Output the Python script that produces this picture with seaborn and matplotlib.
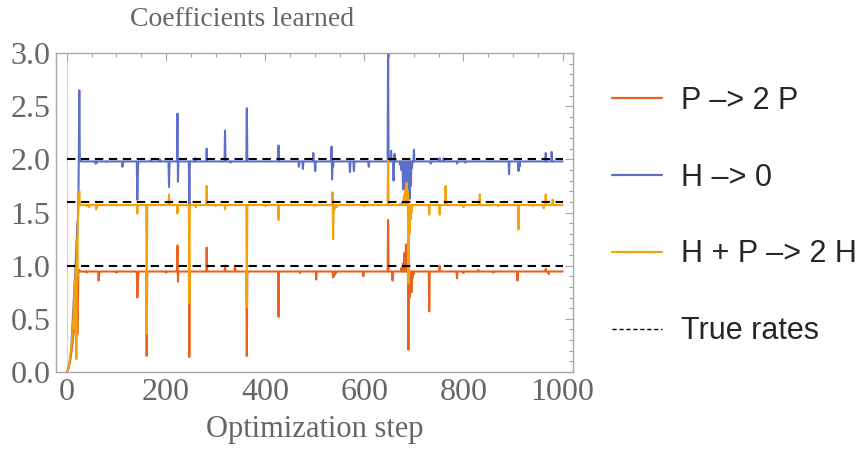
import numpy as np
import pandas as pd
import seaborn as sns
import matplotlib.pyplot as plt
from matplotlib.lines import Line2D
from matplotlib.ticker import MultipleLocator

# ---------------------------------------------------------------- data
n_steps = 1000
series_names = ["P \u2013> 2 P", "H \u2013> 0", "H + P \u2013> 2 H"]
true_rates = [1.0, 2.0, 1.6]

# settled level each learned coefficient hovers around
p2p_level = 0.945
h0_level = 1.98
hp2h_level = 1.57

# start-up transient (steps 0..24)
p2p_start = [0.0, 0.01, 0.02, 0.03, 0.05, 0.07, 0.09, 0.12, 0.15, 0.18, 0.22,
             0.26, 0.3, 0.34, 0.38, 0.42, 0.48, 0.55, 0.6, 0.62, 0.75, 0.35,
             0.55, 0.93, 0.96]
h0_start = [0.0, 0.01, 0.02, 0.04, 0.06, 0.08, 0.11, 0.14, 0.18, 0.24, 0.33,
            0.4, 0.5, 0.6, 0.7, 0.78, 0.85, 0.95, 1.05, 1.2, 1.25, 1.4,
            1.43, 1.55, 2.0]
hp2h_start = [0.0, 0.01, 0.02, 0.04, 0.06, 0.09, 0.12, 0.16, 0.2, 0.25, 0.3,
              0.36, 0.42, 0.5, 0.6, 0.72, 0.85, 0.4, 1.0, 0.12, 1.25, 0.9,
              1.35, 1.58, 1.62]

# excursions away from the settled level: (step, value)
p2p_events = [(25, 0.96), (40, 0.935), (64, 0.86), (65, 0.9), (100, 0.935),
              (142, 0.70), (143, 0.80), (144, 0.90), (161, 0.15), (200, 0.935),
              (223, 1.19), (224, 0.85), (247, 0.14), (282, 1.17), (319, 1.0),
              (339, 1.0), (363, 0.15), (427, 0.52), (470, 0.93), (503, 0.87),
              (537, 0.89), (538, 0.90), (540, 0.91), (543, 0.93), (598, 0.90),
              (648, 1.43), (657, 0.86), (675, 0.98), (678, 1.02), (681, 1.12),
              (684, 1.20), (686, 1.10), (689, 0.21), (691, 0.70), (693, 0.79),
              (695, 0.75), (697, 0.88), (700, 0.92), (731, 0.57), (752, 1.0),
              (787, 0.88), (800, 0.93), (830, 0.96), (860, 0.935), (909, 0.86),
              (966, 0.97), (972, 0.92)]
h0_events = [(25, 2.65), (26, 2.02), (27, 1.99), (58, 1.96), (60, 1.965),
             (80, 1.975), (112, 1.93), (142, 1.62), (143, 1.84), (168, 1.99),
             (188, 2.0), (206, 1.74), (223, 2.43), (224, 1.79), (247, 1.57),
             (259, 2.01), (282, 2.10), (319, 2.27), (330, 1.97), (363, 2.48),
             (427, 2.13), (468, 1.93), (476, 1.91), (497, 2.06), (501, 1.89),
             (534, 2.12), (535, 1.81), (537, 1.93), (571, 1.88), (579, 1.89),
             (609, 1.93), (648, 3.05), (654, 2.08), (659, 1.80), (661, 2.05),
             (672, 1.95), (675, 1.90), (678, 1.72), (680, 1.80), (682, 1.68),
             (684, 1.70), (686, 1.78), (688, 1.66), (690, 1.72), (692, 1.63),
             (694, 1.75), (696, 1.92), (700, 2.09), (734, 1.96), (752, 2.01),
             (760, 2.01), (787, 1.96), (804, 1.97), (892, 1.86), (911, 1.89),
             (913, 1.93), (966, 2.06), (978, 2.07)]
hp2h_events = [(25, 1.70), (26, 1.58), (40, 1.56), (45, 1.55), (59, 1.53),
               (61, 1.55), (100, 1.565), (142, 1.49), (161, 0.36), (206, 1.67),
               (223, 1.49), (247, 0.65), (260, 1.55), (282, 1.75), (300, 1.56),
               (319, 1.53), (363, 0.61), (400, 1.56), (427, 1.43), (500, 1.56),
               (536, 1.69), (537, 1.25), (538, 1.50), (540, 1.53), (545, 1.55),
               (600, 1.56), (648, 1.99), (672, 1.58), (676, 1.60), (680, 1.66),
               (683, 1.72), (685, 1.78), (687, 1.70), (689, 0.83), (691, 1.30),
               (693, 1.43), (695, 1.50), (697, 1.56), (731, 1.48), (752, 1.48),
               (764, 1.75), (800, 1.55), (833, 1.67), (870, 1.56), (911, 1.34),
               (940, 1.56), (962, 1.54), (966, 1.67), (980, 1.62)]


def build_series(level, start, events):
    values = np.full(n_steps + 1, level)
    values[:len(start)] = start
    for step, value in events:
        values[step] = value
    return values


steps = np.arange(n_steps + 1)
frames = []
for name, level, start, events in zip(
        series_names,
        [p2p_level, h0_level, hp2h_level],
        [p2p_start, h0_start, hp2h_start],
        [p2p_events, h0_events, hp2h_events]):
    frames.append(pd.DataFrame({"step": steps,
                                "value": build_series(level, start, events),
                                "reaction": name}))
df = pd.concat(frames, ignore_index=True)

colors = ["#E8621F", "#5D6FC8", "#F5A10C"]
palette = dict(zip(series_names, colors))

# ---------------------------------------------------------------- figure
sns.set_style("white")
plt.rcParams["font.family"] = ["Liberation Serif", "DejaVu Serif"]

fig = plt.figure(figsize=(8.65, 4.5), dpi=100)
ax = fig.add_axes([56 / 865, 1 - 372 / 450, 517 / 865, 319 / 450])

# thin axis line at step 0
ax.axvline(0, color="#d4d4d4", lw=0.8, zorder=0)

sns.lineplot(data=df, x="step", y="value", hue="reaction",
             hue_order=series_names, palette=palette, estimator=None,
             sort=False, lw=1.5, legend=False, ax=ax)

for rate in true_rates:
    ax.plot([0, n_steps], [rate, rate], color="black", lw=1.5,
            linestyle=(0, (4, 2.7)), zorder=5)

ax.set_xlim(-22, 1021)
ax.set_ylim(0, 3)
ax.xaxis.set_major_locator(MultipleLocator(200))
ax.xaxis.set_minor_locator(MultipleLocator(50))
ax.yaxis.set_major_locator(MultipleLocator(0.5))
ax.yaxis.set_minor_locator(MultipleLocator(0.1))
ax.yaxis.set_major_formatter(lambda v, pos: f"{v:.1f}")

frame_grey = "#a6a6a6"
label_grey = "#666666"
for spine in ax.spines.values():
    spine.set_visible(True)
    spine.set_color(frame_grey)
    spine.set_linewidth(1.0)
ax.tick_params(which="both", direction="in", top=True, right=True,
               color=frame_grey, width=0.8, labelcolor=label_grey,
               labelsize=23)
ax.tick_params(which="major", length=5.5)
ax.tick_params(which="minor", length=3)
ax.tick_params(axis="y", pad=4)
ax.tick_params(axis="x", pad=4)

ax.set_xlabel("Optimization step", fontsize=22, color=label_grey, labelpad=6)
ax.set_ylabel("")
fig.text(242 / 865, 1 - 20 / 450, "Coefficients learned", fontsize=20,
         color=label_grey, ha="center", va="center")

# legend to the right of the frame
handles = [Line2D([], [], color=c, lw=1.6) for c in colors]
handles.append(Line2D([], [], color="black", lw=1.0, linestyle=(0, (3, 2))))
labels = series_names + ["True rates"]
fig.legend(handles, labels, loc="upper left",
           bbox_to_anchor=(612 / 865, 1 - 86 / 450), frameon=False,
           prop={"family": "Liberation Sans", "size": 22},
           handlelength=1.65, handletextpad=0.6, labelspacing=1.53,
           borderpad=0, borderaxespad=0)

fig.savefig("out.png", dpi=100)
